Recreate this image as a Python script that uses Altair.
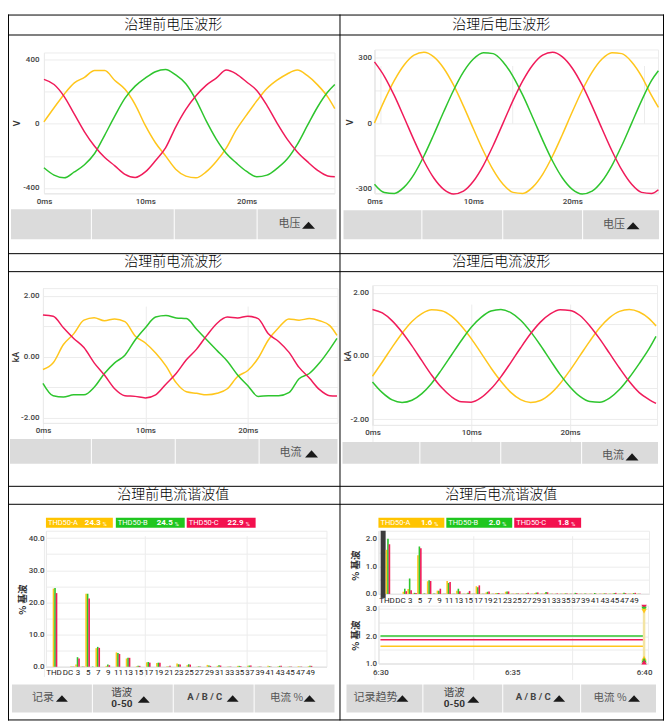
import altair as alt
import pandas as pd

# ---------------- data ----------------
t_ms = [0, 1, 2, 3, 4, 5, 6, 7, 8, 9, 10, 11, 12, 13, 14, 15, 16, 17, 18, 19,
        20, 21, 22, 23, 24, 25, 26, 27, 28, 28.7]

u_before_A = [12, 100, 185, 255, 290, 333, 332, 270, 215, 120, -10, -118, -200, -283, -326,
              -337, -300, -235, -150, -35, 56, 143, 220, 272, 311, 335, 300, 243, 168, 95]
u_before_B = [-274, -320, -337, -300, -255, -185, -70, 50, 160, 235, 285, 325, 339, 305, 250,
              150, 20, -95, -185, -245, -297, -330, -320, -278, -220, -128, -10, 105, 198, 245]
u_before_C = [277, 245, 170, 60, -50, -140, -210, -262, -315, -335, -300, -230, -150, -20, 90,
              175, 240, 285, 335, 310, 261, 208, 115, 5, -95, -175, -236, -290, -325, -330]

u_after_A = [0, 103, 195, 267, 312, 325, 304, 252, 174, 78, -26, -127, -215, -281, -318,
             -323, -294, -235, -151, -52, 52, 151, 234, 294, 323, 319, 281, 215, 127, 72]
u_after_B = [-281, -319, -323, -294, -235, -151, -52, 52, 151, 235, 294, 323, 319, 281, 215,
             127, 26, -78, -174, -252, -304, -325, -312, -267, -195, -103, 0, 103, 195, 240]
u_after_C = [281, 215, 127, 26, -78, -174, -252, -304, -325, -312, -267, -195, -103, 0, 103,
             195, 267, 312, 325, 304, 252, 174, 78, -26, -127, -215, -281, -318, -323, -306]

i_before_A = [-0.42, -0.2, 0.40, 0.75, 1.2, 1.28, 1.18, 1.24, 1.15, 0.68, 0.45, 0.12, -0.3, -0.85, -1.15,
              -1.2, -1.25, -1.2, -1.05, -0.65, -0.45, -0.05, 0.55, 0.95, 1.24, 1.2, 1.25, 1.18, 1.02, 0.7]
i_before_B = [-0.87, -1.28, -1.32, -1.25, -1.25, -1.0, -0.55, -0.2, 0.05, 0.55, 0.95, 1.3, 1.35, 1.27, 1.25,
              0.9, 0.55, 0.2, -0.15, -0.6, -0.95, -1.3, -1.28, -1.28, -1.18, -0.72, -0.55, -0.2, 0.25, 0.6]
i_before_C = [1.37, 1.33, 0.95, 0.6, 0.3, -0.2, -0.6, -1.05, -1.28, -1.3, -1.35, -1.25, -0.9, -0.55, -0.1,
              0.25, 0.7, 1.1, 1.3, 1.27, 1.33, 1.25, 0.75, 0.5, 0.15, -0.35, -0.7, -1.08, -1.28, -1.29]

i_after_A = [-0.64, -0.19, 0.28, 0.72, 1.09, 1.34, 1.46, 1.43, 1.26, 0.95, 0.55, 0.09, -0.38, -0.80, -1.15,
             -1.38, -1.47, -1.41, -1.20, -0.87, -0.45, 0.01, 0.47, 0.89, 1.21, 1.41, 1.47, 1.39, 1.18, 0.95]
i_after_B = [-0.82, -1.16, -1.39, -1.47, -1.40, -1.19, -0.86, -0.43, 0.03, 0.49, 0.91, 1.22, 1.42, 1.47, 1.37,
             1.13, 0.77, 0.34, -0.13, -0.59, -0.98, -1.28, -1.44, -1.46, -1.33, -1.06, -0.68, -0.24, 0.23, 0.62]
i_after_C = [1.47, 1.36, 1.11, 0.75, 0.32, -0.15, -0.61, -1.00, -1.29, -1.45, -1.46, -1.32, -1.04, -0.66, -0.21,
             0.26, 0.70, 1.07, 1.33, 1.46, 1.44, 1.28, 0.95, 0.54, 0.08, -0.38, -0.81, -1.16, -1.38, -1.50]

harm_cats = ["THD", "DC", "2", "3", "4", "5", "6", "7", "8", "9", "10", "11", "12", "13", "14", "15",
             "16", "17", "18", "19", "20", "21", "22", "23", "24", "25", "26", "27", "28", "29", "30",
             "31", "32", "33", "34", "35", "36", "37", "38", "39", "40", "41", "42", "43", "44", "45",
             "46", "47", "48", "49", "50"]

h_before_A = [24.3, 0.0, 0.2, 0.7, 0.1, 22.7, 0.0, 5.8, 0.0, 0.3, 0.0, 4.5, 0.0, 2.6, 0.0, 0.2,
              0.0, 1.4, 0.0, 1.2, 0.0, 0.2, 0.0, 1.0, 0.0, 0.5, 0.0, 0.1, 0.0, 0.6, 0.0,
              0.3, 0.0, 0.1, 0.0, 0.3, 0.0, 0.3, 0.0, 0.1, 0.0, 0.3, 0.0, 0.2, 0.0, 0.1,
              0.0, 0.2, 0.0, 0.2, 0.0]
h_before_B = [24.5, 0.0, 0.1, 3.0, 0.1, 22.7, 0.1, 6.2, 0.0, 0.7, 0.0, 4.3, 0.0, 2.8, 0.0, 0.3,
              0.0, 1.5, 0.0, 1.3, 0.0, 0.1, 0.0, 0.8, 0.0, 0.8, 0.0, 0.2, 0.0, 0.4, 0.0,
              0.5, 0.0, 0.1, 0.0, 0.3, 0.0, 0.4, 0.0, 0.1, 0.0, 0.2, 0.0, 0.3, 0.0, 0.1,
              0.0, 0.1, 0.0, 0.3, 0.0]
h_before_C = [22.9, 0.0, 0.1, 2.6, 0.1, 21.2, 0.0, 5.9, 0.0, 0.5, 0.0, 4.0, 0.0, 2.8, 0.0, 0.3,
              0.0, 1.3, 0.0, 1.3, 0.0, 0.3, 0.0, 0.7, 0.0, 0.7, 0.0, 0.1, 0.0, 0.3, 0.0,
              0.4, 0.0, 0.1, 0.0, 0.2, 0.0, 0.4, 0.0, 0.1, 0.0, 0.1, 0.0, 0.3, 0.0, 0.1,
              0.0, 0.1, 0.0, 0.3, 0.0]

h_after_A = [1.6, 0.0, 0.08, 0.18, 0.02, 1.40, 0.01, 0.46, 0.01, 0.12, 0.01, 0.47, 0.01, 0.12, 0.01, 0.02,
             0.01, 0.28, 0.01, 0.05, 0.01, 0.03, 0.01, 0.08, 0.01, 0.02, 0.01, 0.02, 0.01, 0.03, 0.01,
             0.03, 0.01, 0.01, 0.01, 0.02, 0.01, 0.01, 0.01, 0.01, 0.01, 0.01, 0.01, 0.02, 0.01, 0.02,
             0.01, 0.02, 0.01, 0.02, 0.01]
h_after_B = [2.0, 0.0, 0.19, 0.56, 0.04, 1.72, 0.02, 0.50, 0.02, 0.12, 0.01, 0.40, 0.01, 0.19, 0.01, 0.04,
             0.01, 0.24, 0.01, 0.08, 0.01, 0.03, 0.01, 0.09, 0.01, 0.02, 0.01, 0.03, 0.01, 0.05, 0.01,
             0.07, 0.01, 0.01, 0.01, 0.02, 0.01, 0.04, 0.01, 0.02, 0.01, 0.03, 0.01, 0.02, 0.01, 0.03,
             0.01, 0.04, 0.01, 0.03, 0.01]
h_after_C = [1.8, 0.0, 0.10, 0.13, 0.03, 1.66, 0.01, 0.47, 0.01, 0.19, 0.01, 0.43, 0.01, 0.10, 0.01, 0.11,
             0.01, 0.31, 0.01, 0.09, 0.01, 0.03, 0.01, 0.09, 0.01, 0.02, 0.01, 0.04, 0.01, 0.05, 0.01,
             0.06, 0.01, 0.02, 0.01, 0.02, 0.01, 0.03, 0.01, 0.01, 0.01, 0.01, 0.01, 0.02, 0.01, 0.04,
             0.01, 0.03, 0.01, 0.04, 0.01]

trend_minutes = [0, 10]
trend_A = [1.63, 1.63]
trend_B = [2.0, 2.0]
trend_C = [1.87, 1.87]
trend_tick_vals = [0, 5, 10]
trend_tick_labels = ["6:30", "6:35", "6:40"]

harm_tick_labels = ["THD", "DC", "3", "5", "7", "9", "11", "13", "15", "17", "19", "21", "23", "25",
                    "27", "29", "31", "33", "35", "37", "39", "41", "43", "45", "47", "49"]

for arr in (h_before_A, h_before_B, h_before_C, h_after_A, h_after_B, h_after_C):
    assert len(arr) == len(harm_cats)

# ---------------- layout helpers ----------------
W, H = 657, 713
OFF = 8


def X(p):
    return p - OFF


def Y(p):
    return p - OFF


YEL, GRN, RED = "#ffc61c", "#2ec52e", "#f01b5a"
LEG_Y, LEG_G, LEG_R = "#ffc400", "#1fc61f", "#f3104e"
phase_scale = alt.Scale(domain=["A", "B", "C"], range=[YEL, GRN, RED])
FONT = "Roboto"
CJK = "Noto Sans CJK SC"
BTN = "#dbdbdb"

dummy = pd.DataFrame({"d": [0]})
L = []


def rect(x1, y1, x2, y2, fill=None, stroke=None, sw=1.0):
    kw = dict(fill=fill) if fill else dict(fillOpacity=0)
    if stroke:
        kw.update(stroke=stroke, strokeWidth=sw)
    L.append(alt.Chart(dummy).mark_rect(**kw).encode(
        x=alt.value(X(x1)), x2=alt.value(X(x2)), y=alt.value(Y(y1)), y2=alt.value(Y(y2))))


def hline(x1, x2, y, color="#000000", sw=1):
    L.append(alt.Chart(dummy).mark_rule(color=color, strokeWidth=sw).encode(
        x=alt.value(X(x1)), x2=alt.value(X(x2)), y=alt.value(Y(y) + 0.5)))


def vline(x, y1, y2, color="#000000", sw=1):
    L.append(alt.Chart(dummy).mark_rule(color=color, strokeWidth=sw).encode(
        x=alt.value(X(x) + 0.5), y=alt.value(Y(y1)), y2=alt.value(Y(y2))))


def text(s, x, y, size=10, color="#333333", weight="normal", align="center",
         angle=None, font=FONT, baseline="middle"):
    kw = dict(text=s, fontSize=size, color=color, fontWeight=weight, align=align,
              baseline=baseline, font=font)
    if angle is not None:
        kw["angle"] = angle
    L.append(alt.Chart(dummy).mark_text(**kw).encode(x=alt.value(X(x)), y=alt.value(Y(y))))


TRI_UP = "M-1,0.55L1,0.55L0,-0.55Z"


def tri(x, y, w=13, color="#1a1a1a"):
    L.append(alt.Chart(dummy).mark_point(shape=TRI_UP, size=w * w, filled=True, color=color,
                                         opacity=1, strokeWidth=0).encode(
        x=alt.value(X(x)), y=alt.value(Y(y))))


def lab_expr(vals, labs):
    e = "''"
    for v, l in reversed(list(zip(vals, labs))):
        e = f"datum.value == {v} ? '{l}' : {e}"
    return e


def axis(**kw):
    base = dict(labelFont=FONT, labelFontSize=8, labelColor="#444444", domainColor="#d8d8d8",
                gridColor="#ececec", ticks=False, title=None, labelOverlap=False, labelFlush=False)
    base.update(kw)
    return alt.Axis(**base)


def long_df(xs, A, B, C, xname):
    n = len(A)
    return pd.DataFrame({xname: list(xs) * 3, "v": A + B + C,
                         "phase": ["A"] * n + ["B"] * n + ["C"] * n})


def wave(A, B, C, xr, yr, xdom, ydom, yt, yl, yg, lpad):
    df = long_df(t_ms, A, B, C, "t")
    xs = alt.Scale(domain=xdom, range=[X(xr[0]), X(xr[1])], nice=False, zero=False)
    ys = alt.Scale(domain=ydom, range=[Y(yr[1]), Y(yr[0])], nice=False, zero=False)
    xa = axis(orient="bottom", offset=Y(yr[1]) - H, values=[0, 10, 20],
              labelExpr="datum.value + 'ms'", grid=True, labelPadding=4, labelFontWeight=500)
    ya = axis(orient="left", offset=-X(xr[0]), values=yg, labelExpr=lab_expr(yt, yl),
              grid=True, labelPadding=lpad, labelFontWeight=500)
    L.append(alt.Chart(df).mark_line(interpolate="monotone", strokeWidth=1.5).encode(
        x=alt.X("t:Q", scale=xs, axis=xa),
        y=alt.Y("v:Q", scale=ys, axis=ya),
        color=alt.Color("phase:N", scale=phase_scale, legend=None)))


THD_POS = -1.45      # where the THD bar group sits on the harmonic axis
THD_TICK = -1.75     # where its tick label sits


def bars(A, B, C, xr, yr, xdom, ydom, yt, yl, yg, xlpad, highlight=False):
    df = pd.DataFrame({"cat": harm_cats * 3, "val": A + B + C,
                       "phase": ["A"] * len(A) + ["B"] * len(B) + ["C"] * len(C)})
    xs = alt.Scale(domain=xdom, range=[X(xr[0]), X(xr[1])], nice=False, zero=False)
    ys = alt.Scale(domain=ydom, range=[Y(yr[1]), Y(yr[0])], nice=False, zero=False)
    tick_vals = [THD_TICK, 1] + list(range(3, 50, 2))
    xa = axis(orient="bottom", offset=Y(yr[1]) - H, values=tick_vals,
              labelExpr=lab_expr(tick_vals, harm_tick_labels), grid=False,
              labelPadding=xlpad, labelFontSize=8, labelColor="#222222")
    ya = axis(orient="left", offset=-X(xr[0]), values=yg, labelExpr=lab_expr(yt, yl),
              grid=True, labelPadding=2, labelFontWeight=500)
    if highlight:
        L.append(alt.Chart(dummy).mark_rule(color="#3c3c3c", strokeWidth=5).encode(
            x=alt.XDatum(THD_POS, type="quantitative", scale=xs, axis=None),
            y=alt.value(Y(yr[0])), y2=alt.value(Y(yr[1] + 4))))
    L.append(alt.Chart(df).transform_calculate(
        pos=f"(datum.cat == 'THD' ? {THD_POS} : datum.cat == 'DC' ? 1 : toNumber(datum.cat))"
            " + (datum.phase == 'A' ? -0.3 : datum.phase == 'B' ? 0 : 0.3)"
    ).mark_bar(width=1.6).encode(
        x=alt.X("pos:Q", scale=xs, axis=xa),
        y=alt.Y("val:Q", scale=ys, axis=ya, stack=None),
        color=alt.Color("phase:N", scale=phase_scale, legend=None)))


def buttons(y1, y2, segs):
    for a, b in segs:
        rect(a, y1, b, y2, fill=BTN)


def thd_legend(boxes, vals):
    for (x1, x2, col), name, val in zip(boxes, ["THD50-A", "THD50-B", "THD50-C"], vals):
        rect(x1, 518, x2, 528, fill=col)
        text(name, x1 + 2, 523.5, size=7.5, color="white", align="left")
        text(f"{val:.1f}", x2 - 12, 523.5, size=8, color="white", weight="bold", align="right")
        text("%", x2 - 10, 524, size=5.5, color="white", align="left")


# ---------------- backgrounds ----------------
buttons(209, 239, [(11, 91), (92, 174), (175, 257), (258, 337)])
buttons(210, 239, [(344, 422), (423, 503), (504, 583), (584, 660)])
buttons(439, 464, [(10, 91), (92, 175), (176, 259), (260, 338)])
buttons(442, 464, [(343, 420), (421, 501), (502, 582), (583, 659)])
buttons(685, 713, [(12, 92), (93, 173), (174, 254), (255, 335)])
buttons(685, 713, [(347, 423), (424, 503), (504, 581), (582, 657)])

for r in [(44, 52, 335, 193), (375, 49, 659, 193), (43, 288, 338, 423), (373, 285, 658, 425),
          (46, 531, 327, 667), (379, 531, 650, 594), (379, 606, 649, 664)]:
    rect(r[0] + 0.5, r[1] + 0.5, r[2] + 0.5, r[3] + 0.5, stroke="#ececec")

# ---------------- data layers ----------------
wave(u_before_A, u_before_B, u_before_C, (44, 335), (52, 193), [0, 28.67], [-433, 445],
     [-400, 0, 400], ["-400", "0", "400"], [-400, -200, 0, 200, 400], 5)
wave(u_after_A, u_after_B, u_after_C, (375, 659), (49, 193), [0, 28.66], [-322, 338],
     [-300, 0, 300], ["-300", "0", "300"], [-300, -150, 0, 150, 300], 3)
wave(i_before_A, i_before_B, i_before_C, (43, 338), (288, 423), [0, 28.75], [-2.17, 2.25],
     [-2, 0, 2], ["-2.00", "0.00", "2.00"], [-2, -1, 0, 1, 2], 4)
wave(i_after_A, i_after_B, i_after_C, (373, 658), (285, 425), [0, 28.8], [-2.18, 2.24],
     [-2, 0, 2], ["-2.00", "0.00", "2.00"], [-2, -1, 0, 1, 2], 4)

bars(h_before_A, h_before_B, h_before_C, (46, 327), (531, 667.3), [-2.26, 51.28], [0, 42.26],
     [0, 10, 20, 30, 40], ["0.0", "10.0", "20.0", "30.0", "40.0"], list(range(0, 45, 5)), 2)
bars(h_after_A, h_after_B, h_after_C, (379, 650), (531, 594.3), [-2.38, 51.1], [0, 2.29],
     [0, 1, 2], ["0.0", "1.0", "2.0"], [0, 0.5, 1, 1.5, 2], 3, highlight=True)

# trend
tdf = long_df(trend_minutes, trend_A, trend_B, trend_C, "m")
txs = alt.Scale(domain=[-0.076, 10.15], range=[X(379), X(649)], nice=False, zero=False)
tys = alt.Scale(domain=[1.0, 3.11], range=[Y(664), Y(606)], nice=False, zero=False)
L.append(alt.Chart(tdf).mark_line(strokeWidth=1.5).encode(
    x=alt.X("m:Q", scale=txs, axis=axis(orient="bottom", offset=Y(664) - H, values=trend_tick_vals,
                                         labelExpr=lab_expr(trend_tick_vals, trend_tick_labels),
                                         grid=True, labelPadding=5, labelFontWeight=500)),
    y=alt.Y("v:Q", scale=tys, axis=axis(orient="left", offset=-X(379), values=[1, 1.5, 2, 2.5, 3],
                                        labelExpr=lab_expr([1, 2, 3], ["1.0", "2.0", "3.0"]),
                                        grid=True, labelPadding=2, labelFontWeight=500)),
    color=alt.Color("phase:N", scale=phase_scale, legend=None)))
L.append(alt.Chart(dummy).mark_rule(color="#f3e4a4", strokeWidth=2.5).encode(
    x=alt.XDatum(10, type="quantitative", scale=txs, axis=None),
    y=alt.value(Y(606)), y2=alt.value(Y(664))))
for yy, col, shp in [(607.5, RED, "triangle-down"), (609.5, GRN, "triangle-down"),
                     (611.5, YEL, "triangle-down"), (658.5, YEL, "triangle-up"),
                     (660.5, GRN, "triangle-up"), (662.5, RED, "triangle-up")]:
    L.append(alt.Chart(dummy).mark_point(shape=shp, size=30, filled=True, color=col, opacity=1).encode(
        x=alt.XDatum(10, type="quantitative", scale=txs, axis=None), y=alt.value(Y(yy))))

# ---------------- legends ----------------
thd_legend([(46, 113, LEG_Y), (116, 185, LEG_G), (187, 256, LEG_R)],
           [h_before_A[0], h_before_B[0], h_before_C[0]])
thd_legend([(379, 445, LEG_Y), (447, 513, LEG_G), (515, 582, LEG_R)],
           [h_after_A[0], h_after_B[0], h_after_C[0]])

# ---------------- texts ----------------
for s, x, y in [("治理前电压波形", 173.5, 24), ("治理后电压波形", 502, 24),
                ("治理前电流波形", 173.5, 262), ("治理后电流波形", 502, 262),
                ("治理前电流谐波值", 173.5, 495), ("治理后电流谐波值", 502, 495)]:
    text(s, x, y, size=14, color="#000000", font=CJK, weight=300)

for s, x, y in [("V", 17, 123), ("V", 351, 122), ("kA", 16, 357), ("kA", 349, 356)]:
    text(s, x, y, size=9, color="#333333", angle=270, weight=500)
for x, y in [(23, 600), (357, 566), (357, 636)]:
    text("% 基波", x, y, size=9.5, color="#333333", angle=270, font=CJK, weight="bold")

# button labels
for s, x, y, tx, ty in [("电压", 290, 224, 309, 225), ("电压", 615, 224.5, 634, 225.5),
                        ("电流", 291, 453, 312, 454), ("电流", 614, 456, 633, 457)]:
    text(s, x, y, size=11, color="#555555", font=CJK)
    tri(tx, ty)

for (s1, x1, t1), (x2, t2), (x3, t3), (x4, t4) in [
        (("记录", 43, 62), (122, 144), (205, 233), (287, 310)),
        (("记录趋势", 376, 403), (455, 474), (534, 560), (611, 635))]:
    text(s1, x1, 699, size=11, color="#555555", font=CJK)
    tri(t1, 699, w=12)
    text("谐波", x2, 694, size=10.5, color="#444444", font=CJK)
    text("0-50", x2, 704.5, size=10, color="#333333", weight="bold")
    tri(t2, 700, w=12)
    text("A / B / C", x3, 698, size=9.5, color="#444444", weight="bold")
    tri(t3, 699, w=12)
    text("电流 %", x4, 698.5, size=10.5, color="#555555", font=CJK)
    tri(t4, 699, w=12)

# ---------------- table frame ----------------
for yy in [14, 34, 253, 271, 486, 504, 720]:
    hline(7, 665, yy)
for xx in [8, 340, 664]:
    vline(xx, 14, 721)

chart = alt.layer(*L).resolve_scale(x="independent", y="independent").properties(
    width=W, height=H, padding=0, autosize=alt.AutoSizeParams(type="none")
).configure_view(stroke=None)

chart.save("out.html", embed_options={"renderer": "svg", "actions": False})
